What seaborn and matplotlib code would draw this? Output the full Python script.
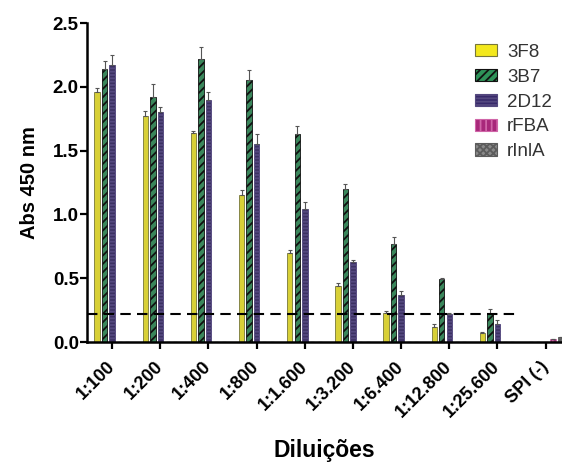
import matplotlib
matplotlib.use("Agg")
import matplotlib.pyplot as plt
import numpy as np
import pandas as pd
import seaborn as sns
from matplotlib.patches import Patch

# ──── DATA ───────────────────────────────────────────────────────────────────
dilutions = ["1:100", "1:200", "1:400", "1:800", "1:1.600", "1:3.200",
             "1:6.400", "1:12.800", "1:25.600", "SPI (-)"]
series = ["3F8", "3B7", "2D12", "rFBA", "rInlA"]

abs_3f8 = [1.96, 1.77, 1.64, 1.15, 0.70, 0.44, 0.23, 0.12, 0.07, 0.0]
abs_3b7 = [2.14, 1.92, 2.22, 2.05, 1.63, 1.20, 0.77, 0.49, 0.22, 0.0]
abs_2d12 = [2.17, 1.80, 1.90, 1.55, 1.04, 0.63, 0.37, 0.22, 0.14, 0.0]
abs_rfba = [0, 0, 0, 0, 0, 0, 0, 0, 0, 0.02]
abs_rinla = [0, 0, 0, 0, 0, 0, 0, 0, 0, 0.04]

err_3f8 = [0.03, 0.04, 0.01, 0.04, 0.02, 0.02, 0.01, 0.02, 0.01, 0.0]
err_3b7 = [0.06, 0.10, 0.09, 0.08, 0.06, 0.04, 0.05, 0.01, 0.04, 0.0]
err_2d12 = [0.08, 0.04, 0.06, 0.08, 0.06, 0.01, 0.03, 0.01, 0.03, 0.0]
err_rfba = [0] * 10
err_rinla = [0] * 10

cutoff = 0.22

values = [abs_3f8, abs_3b7, abs_2d12, abs_rfba, abs_rinla]
errors = [err_3f8, err_3b7, err_2d12, err_rfba, err_rinla]

df = pd.DataFrame({
    "dilution": np.tile(dilutions, len(series)),
    "serie": np.repeat(series, len(dilutions)),
    "abs": np.concatenate(values),
})

# ──── STYLE ──────────────────────────────────────────────────────────────────
sns.set_style("ticks")
plt.rcParams["font.family"] = ["Liberation Sans", "DejaVu Sans"]
plt.rcParams["hatch.linewidth"] = 1.3

faces = ["#f3e81c", "#2e9259", "#37296a", "#a8287a", "#8a8a8a"]
edges = ["#77773a", "#111111", "#54487f", "#d065a8", "#5c5c5c"]
hatches = [None, "////", "-----", "|||", "xxxxx"]

fig = plt.figure(figsize=(5.62, 4.65), dpi=100)
ax = fig.add_axes([0.155, 0.2645, 0.845, 0.686])

sns.barplot(data=df, x="dilution", y="abs", hue="serie", order=dilutions,
            hue_order=series, palette=faces, width=0.78, gap=0.28,
            errorbar=None, legend=False, ax=ax)

# hatches, edges and upward error bars
bar_conts = list(ax.containers)
for i, cont in enumerate(bar_conts):
    xs = []
    for bar in cont:
        bar.set_edgecolor(edges[i])
        bar.set_linewidth(0.6)
        if hatches[i]:
            bar.set_hatch(hatches[i])
        xs.append(bar.get_x() + bar.get_width() / 2)
    err = np.array(errors[i])
    ax.errorbar(xs, values[i], yerr=[np.zeros_like(err), err], fmt="none",
                ecolor="#555555", elinewidth=0.8, capsize=1.5, capthick=0.8)

ax.hlines(cutoff, -0.52, 8.45, colors="black", linestyles=(0, (5, 3)), lw=1.5)

ax.set_xlim(-0.52, 9.34)
ax.set_ylim(0, 2.5)
ax.set_yticks([0, 0.5, 1.0, 1.5, 2.0, 2.5])
ax.set_yticklabels([f"{v:.1f}" for v in [0, 0.5, 1.0, 1.5, 2.0, 2.5]],
                   fontsize=13.5, fontweight="bold")
ax.set_xticks(range(len(dilutions)))
ax.set_xticklabels(dilutions, rotation=45, ha="right", va="center",
                   rotation_mode="anchor", fontsize=13, fontweight="bold")
ax.tick_params(axis="both", length=5, width=1.6, direction="out",
               color="black", labelcolor="black")
ax.tick_params(axis="x", pad=11)
ax.tick_params(axis="y", pad=1)
for s in ["left", "bottom"]:
    ax.spines[s].set_linewidth(1.8)
    ax.spines[s].set_color("black")
sns.despine(ax=ax)

ax.set_ylabel("Abs 450 nm", fontsize=14.5, fontweight="bold", labelpad=10,
              color="black")
ax.set_xlabel("Diluições", fontsize=16.5, fontweight="bold", labelpad=13,
              color="black")

handles = [Patch(facecolor=faces[i], edgecolor=edges[i], hatch=hatches[i],
                 linewidth=0.8, label=series[i]) for i in range(len(series))]
leg = ax.legend(handles=handles, loc="upper left", bbox_to_anchor=(0.817, 0.935),
                frameon=False, fontsize=13.5, handlelength=1.17,
                handleheight=0.65, labelspacing=0.42, handletextpad=0.53,
                borderaxespad=0, borderpad=0)
for t in leg.get_texts():
    t.set_color("#333333")

fig.savefig("out.png", dpi=100)
